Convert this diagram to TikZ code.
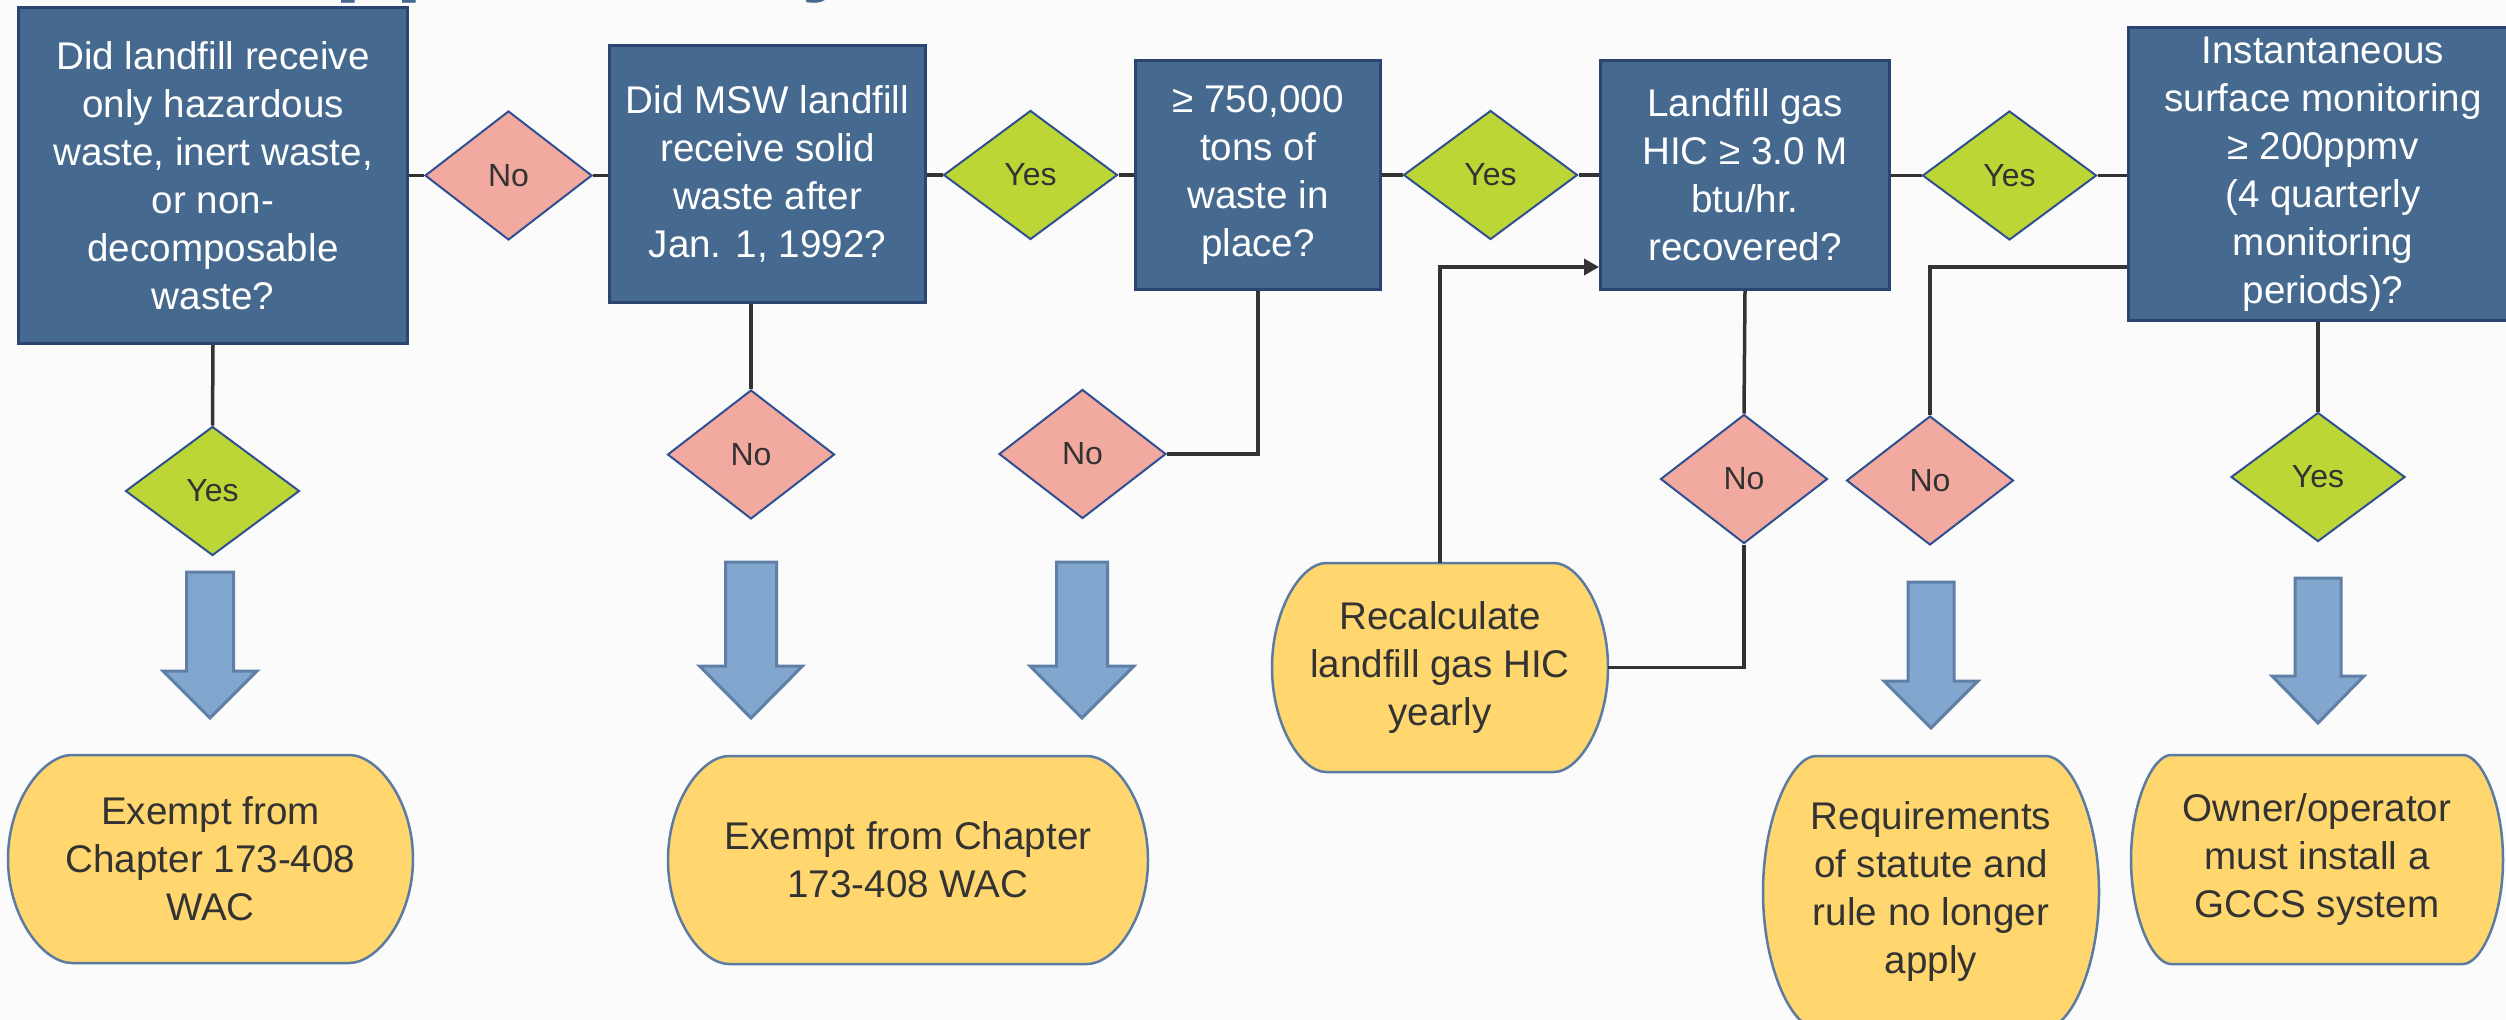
\documentclass[tikz,border=0pt]{standalone}
\usepackage{fontspec}
\setmainfont{Liberation Sans}
\usetikzlibrary{shapes.geometric,arrows.meta}
\definecolor{bgc}{HTML}{FBFBFB}
\definecolor{boxfill}{HTML}{466A8F}
\definecolor{boxline}{HTML}{2C4570}
\definecolor{dline}{HTML}{2F5090}
\definecolor{pinkf}{HTML}{F2A9A0}
\definecolor{greenf}{HTML}{BCD636}
\definecolor{yellf}{HTML}{FFD76E}
\definecolor{yline}{HTML}{5B7BA2}
\definecolor{arrf}{HTML}{82A7CE}
\definecolor{arrl}{HTML}{5F7FA6}
\definecolor{txtc}{HTML}{333333}
\definecolor{connc}{HTML}{333333}
\definecolor{titlec}{HTML}{46688F}

\tikzset{
 qbox/.style={draw=boxline, line width=3pt, fill=boxfill, text=white, align=center, inner sep=0pt,
   font=\fontsize{38.6pt}{48pt}\selectfont},
 nodia/.style={diamond, draw=dline, line width=2pt, fill=pinkf, text=txtc, inner sep=0pt,
   minimum width=167pt, minimum height=129pt, font=\fontsize{32pt}{38pt}\selectfont},
 yesdia/.style={nodia, fill=greenf, minimum width=174pt},
 termsty/.style={draw=yline, line width=2.5pt, fill=yellf},
 termtxt/.style={text=txtc, align=center, inner sep=0pt, font=\fontsize{38.6pt}{48pt}\selectfont},
 barrow/.style={draw=arrl, line width=3pt, fill=arrf, line join=miter},
 link/.style={draw=connc, line width=3.5pt},
}

% terminal shape: name, cx, cy, w, h, a, text
\newcommand\termnode[7]{%
 \draw[termsty] ({#2-#4/2+#6},{#3-#5/2}) -- ({#2+#4/2-#6},{#3-#5/2})
   .. controls ({#2+#4/2-0.55*#6},{#3-#5/2}) and ({#2+#4/2},{#3-#5/2+0.22*#5}) .. ({#2+#4/2},{#3})
   .. controls ({#2+#4/2},{#3+#5/2-0.22*#5}) and ({#2+#4/2-0.55*#6},{#3+#5/2}) .. ({#2+#4/2-#6},{#3+#5/2})
   -- ({#2-#4/2+#6},{#3+#5/2})
   .. controls ({#2-#4/2+0.55*#6},{#3+#5/2}) and ({#2-#4/2},{#3+#5/2-0.22*#5}) .. ({#2-#4/2},{#3})
   .. controls ({#2-#4/2},{#3-#5/2+0.22*#5}) and ({#2-#4/2+0.55*#6},{#3-#5/2}) .. cycle;
 \node[termtxt, minimum width=#4pt, minimum height=#5pt] (#1) at (#2,#3) {#7};}

% block arrow: cx, top, headstart, tip, shaftw, headw
\newcommand\blockarrow[6]{%
 \draw[barrow] ({#1-#5/2},#2) -- ({#1+#5/2},#2) -- ({#1+#5/2},#3) -- ({#1+#6/2},#3)
   -- (#1,#4) -- ({#1-#6/2},#3) -- ({#1-#5/2},#3) -- cycle;}

\begin{document}
\begin{tikzpicture}[x=1pt,y=-1pt]
\useasboundingbox (0,0) rectangle (2506,1020);
\clip (0,0) rectangle (2506,1020);
\fill[bgc] (0,0) rectangle (2506,1020);

% title, cut off by the top edge as in the original
\node[anchor=base west, inner sep=0pt, text=titlec, font=\fontsize{100pt}{110pt}\selectfont\bfseries] (title) at (262,-18) {Applicability};

% question boxes
\node[qbox, minimum width=389pt, minimum height=336pt] (B1) at (213,175.5)
 {Did landfill receive\\only hazardous\\waste, inert waste,\\or non-\\decomposable\\waste?};
\node[qbox, minimum width=316pt, minimum height=257pt] (B2) at (767.5,174)
 {Did MSW landfill\\receive solid\\waste after\\Jan. 1, 1992?};
\node[qbox, minimum width=245pt, minimum height=229pt] (B3) at (1258,175)
 {≥ 750,000\\tons of\\waste in\\place?};
\node[qbox, minimum width=289pt, minimum height=229pt] (B4) at (1745,175)
 {Landfill gas\\HIC ≥ 3.0 M\\btu/hr.\\recovered?};
\node[qbox, minimum width=389pt, minimum height=293pt] (B5) at (2323,174)
 {Instantaneous\\surface monitoring\\≥ 200ppmv\\(4 quarterly\\monitoring\\periods)?};

% decision diamonds
\node[nodia] (N1) at (508.5,175.5) {No};
\node[yesdia] (Y2) at (1030.5,175) {Yes};
\node[yesdia] (Y3) at (1490.5,175) {Yes};
\node[yesdia] (Y4) at (2009.5,175.5) {Yes};
\node[yesdia] (Y1) at (212.5,491) {Yes};
\node[nodia] (N2) at (751,454.5) {No};
\node[nodia] (N3) at (1082.5,454) {No};
\node[nodia] (N4) at (1744,479) {No};
\node[nodia] (N5) at (1930,480.5) {No};
\node[yesdia] (Y5) at (2318,477) {Yes};

% terminals
\termnode{T1}{210.5}{859}{405}{208}{64}{Exempt from\\Chapter 173-408\\WAC}
\termnode{T2}{908}{860}{480}{208}{61}{Exempt from Chapter\\173-408 WAC}
\termnode{R}{1440}{667.5}{336}{209}{54}{Recalculate\\landfill gas HIC\\yearly}
\termnode{T4}{1931}{892}{336}{272}{53}{Requirements\\of statute and\\rule no longer\\apply}
\termnode{T5}{2317}{859.5}{372}{209}{40}{Owner/operator\\must install a\\GCCS system}

% block arrows
\blockarrow{210}{572}{671}{718}{47}{94}
\blockarrow{751}{562}{666}{718}{51}{103}
\blockarrow{1082}{562}{666}{718}{51}{104}
\blockarrow{1931}{582}{681}{728}{46}{94}
\blockarrow{2318}{578}{676}{723}{46}{92}

% connectors
\draw[link] (B1.east |- N1.west) -- (N1.west);
\draw[link] (N1.east) -- (N1.east -| B2.west);
\draw[link] (B2.east |- Y2.west) -- (Y2.west);
\draw[link] (Y2.east) -- (Y2.east -| B3.west);
\draw[link] (B3.east |- Y3.west) -- (Y3.west);
\draw[link] (Y3.east) -- (Y3.east -| B4.west);
\draw[link] (B4.east |- Y4.west) -- (Y4.west);
\draw[link] (Y4.east) -- (Y4.east -| B5.west);
\draw[link] (B1.south) -- (Y1.north);
\draw[link] (N2.north |- B2.south) -- (N2.north);
\draw[link] (N3.east) -| (B3.south);
\draw[link] (B4.south) -- (N4.north);
\draw[link] (N4.south) |- (R.east);
\draw[link, -{Triangle[length=15pt,width=16pt]}] (R.north) |- ([yshift=-92pt]B4.west);
\draw[link] (N5.north) |- ([yshift=-93pt]B5.west);
\draw[link] (Y5.north |- B5.south) -- (Y5.north);
\end{tikzpicture}
\end{document}
